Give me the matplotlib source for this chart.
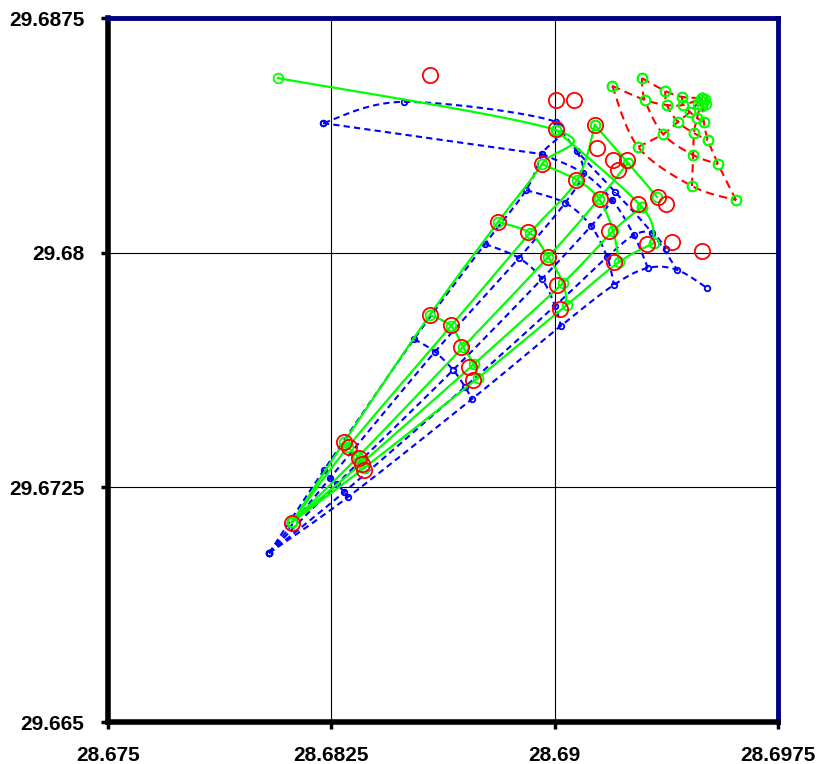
import numpy as np
import matplotlib.pyplot as plt

plt.rcParams['font.family'] = ['Liberation Sans', 'DejaVu Sans']

# ---- green tracks (solid), each list is (x, y) in lon/lat
g_ray1_x = [28.68118, 28.68293, 28.68581, 28.68810, 28.68957, 28.69004, 28.68071]
g_ray1_y = [29.67139, 29.67395, 29.67801, 29.68098, 29.68283, 29.68392, 29.68558]
g_ray2_x = [28.68118, 28.68306, 28.68652, 28.68917, 28.69075, 28.69135]
g_ray2_y = [29.67139, 29.67379, 29.67766, 29.68063, 29.68232, 29.68408]
g_ray3_x = [28.68118, 28.68339, 28.68692, 28.68978, 28.69149, 28.69246]
g_ray3_y = [29.67139, 29.67347, 29.67698, 29.67986, 29.68172, 29.68287]
g_ray4_x = [28.68118, 28.68353, 28.68729, 28.69028, 28.69196, 28.69293]
g_ray4_y = [29.67139, 29.67328, 29.67644, 29.67903, 29.68069, 29.68146]
g_ray5_x = [28.68118, 28.68360, 28.68742, 28.69041, 28.69216, 28.69334]
g_ray5_y = [29.67139, 29.67312, 29.67599, 29.67833, 29.67970, 29.68031]
g_ring5_x = [28.69004, 28.69293, 28.69334]
g_ring5_y = [29.68392, 29.68146, 29.68031]
g_tail_x = [28.69135, 28.69246, 28.69344]
g_tail_y = [29.68408, 29.68287, 29.68178]

# ---- blue model tracks (dashed)
b_ray1_x = [28.68041, 28.68225, 28.68528, 28.68766, 28.68904, 28.68957, 28.69004, 28.68494, 28.68222]
b_ray1_y = [29.67040, 29.67305, 29.67724, 29.68028, 29.68200, 29.68315, 29.68418, 29.68482, 29.68414]
b_ray2_x = [28.68041, 28.68246, 28.68598, 28.68880, 28.69035, 28.69095, 28.69075]
b_ray2_y = [29.67040, 29.67280, 29.67683, 29.67983, 29.68159, 29.68255, 29.68325]
b_ray3_x = [28.68041, 28.68269, 28.68659, 28.68957, 28.69122, 28.69193, 28.69203]
b_ray3_y = [29.67040, 29.67261, 29.67625, 29.67916, 29.68085, 29.68168, 29.68194]
b_ray4_x = [28.68041, 28.68293, 28.68699, 28.69001, 28.69176, 28.69266, 28.69327, 28.69374]
b_ray4_y = [29.67040, 29.67235, 29.67571, 29.67830, 29.67986, 29.68056, 29.68063, 29.68012]
b_ray5_x = [28.68041, 28.68306, 28.68722, 28.69021, 28.69199, 28.69313, 28.69411, 28.69512]
b_ray5_y = [29.67040, 29.67219, 29.67532, 29.67766, 29.67897, 29.67951, 29.67945, 29.67887]
b_loop_x = [28.68222, 28.68957]
b_loop_y = [29.68414, 29.68315]

# ---- red model grid (dashed, green markers)
r_arc1_x = [28.69193, 28.69280, 28.69461, 28.69609]
r_arc1_y = [29.68533, 29.68338, 29.68213, 29.68168]
r_arc2_x = [28.69293, 28.69303, 28.69364, 28.69465, 28.69549]
r_arc2_y = [29.68558, 29.68488, 29.68379, 29.68312, 29.68283]
r_arc3_x = [28.69371, 28.69377, 28.69414, 28.69468, 28.69515]
r_arc3_y = [29.68517, 29.68472, 29.68418, 29.68382, 29.68360]
r_arc4_x = [28.69428, 28.69431, 28.69454, 28.69478, 28.69501]
r_arc4_y = [29.68498, 29.68472, 29.68450, 29.68430, 29.68418]
r_rad0_x = [28.69293, 28.69371, 28.69428, 28.69495]
r_rad0_y = [29.68558, 29.68517, 29.68498, 29.68494]
r_rad1_x = [28.69193, 28.69303, 28.69377, 28.69431, 28.69495]
r_rad1_y = [29.68533, 29.68488, 29.68472, 29.68472, 29.68494]
r_rad2_x = [28.69280, 28.69364, 28.69414, 28.69454, 28.69495]
r_rad2_y = [29.68338, 29.68379, 29.68418, 29.68450, 29.68494]
r_rad3_x = [28.69461, 28.69465, 28.69468, 28.69478, 28.69495]
r_rad3_y = [29.68213, 29.68312, 29.68382, 29.68430, 29.68494]
r_rad4_x = [28.69609, 28.69549, 28.69515, 28.69501, 28.69495]
r_rad4_y = [29.68168, 29.68283, 29.68360, 29.68418, 29.68494]
r_end_x = [28.69488, 28.69498, 28.69505, 28.69481, 28.69495, 28.69508]
r_end_y = [29.68488, 29.68482, 29.68491, 29.68475, 29.68469, 29.68475]

# ---- observed positions (red open circles)
obs_x = [28.68581, 28.69004, 28.69065, 28.69004, 28.69135, 28.69142, 28.69196, 28.69243,
         28.69213, 28.68957, 28.69072, 28.69152, 28.69280, 28.69347, 28.69374, 28.69182,
         28.69310, 28.69394, 28.69495, 28.69199, 28.68810, 28.68910, 28.68978, 28.69008,
         28.69018, 28.68581, 28.68652, 28.68685, 28.68712, 28.68726, 28.68293, 28.68309,
         28.68343, 28.68353, 28.68360, 28.68118]
obs_y = [29.68568, 29.68488, 29.68488, 29.68395, 29.68408, 29.68335, 29.68296, 29.68296,
         29.68264, 29.68283, 29.68232, 29.68172, 29.68156, 29.68178, 29.68156, 29.68069,
         29.68028, 29.68034, 29.68005, 29.67970, 29.68098, 29.68066, 29.67986, 29.67897,
         29.67820, 29.67801, 29.67769, 29.67698, 29.67635, 29.67593, 29.67395, 29.67379,
         29.67344, 29.67325, 29.67305, 29.67136]

xticks = [28.675, 28.6825, 28.69, 28.6975]
yticks = [29.665, 29.6725, 29.68, 29.6875]


def smooth(xs, ys, n=16):
    # catmull-rom style curve like a spreadsheet "smoothed line"
    p = np.column_stack([xs, ys])
    if len(p) < 3:
        return p[:, 0], p[:, 1]
    p = np.vstack([p[0], p, p[-1]])
    out = []
    t = np.linspace(0, 1, n, endpoint=False)[:, None]
    for i in range(1, len(p) - 2):
        p0, p1, p2, p3 = p[i - 1], p[i], p[i + 1], p[i + 2]
        out.append(0.5 * ((2 * p1) + (-p0 + p2) * t + (2 * p0 - 5 * p1 + 4 * p2 - p3) * t ** 2
                          + (-p0 + 3 * p1 - 3 * p2 + p3) * t ** 3))
    out.append(p[-2][None, :])
    out = np.vstack(out)
    return out[:, 0], out[:, 1]


fig = plt.figure(figsize=(8.19, 7.64), dpi=100)
ax = fig.add_axes([108 / 819, 42 / 764, 670 / 819, 704 / 764])

blue = dict(color='#0000FF', lw=1.5, ls=(0, (3, 2)), zorder=2)
blue_m = dict(ls='none', marker='o', ms=4, mfc='none', mec='#0000FF', mew=1.3, zorder=3)
blue_rays = [(b_ray1_x, b_ray1_y), (b_ray2_x, b_ray2_y), (b_ray3_x, b_ray3_y),
             (b_ray4_x, b_ray4_y), (b_ray5_x, b_ray5_y)]
for xs, ys in blue_rays + [(b_loop_x, b_loop_y)]:
    ax.plot(*smooth(xs, ys), **blue)
    ax.plot(xs, ys, **blue_m)
# cross lines joining the same time step
for k in range(1, 7):
    xs = [r[0][k] for r in blue_rays if len(r[0]) > k]
    ys = [r[1][k] for r in blue_rays if len(r[1]) > k]
    ax.plot(*smooth(xs, ys), **blue)

green = dict(color='#00FF00', lw=1.6, zorder=4)
green_m = dict(ls='none', marker='o', ms=7, mfc='none', mec='#00FF00', mew=1.3, zorder=5)
green_rays = [(g_ray1_x, g_ray1_y), (g_ray2_x, g_ray2_y), (g_ray3_x, g_ray3_y),
              (g_ray4_x, g_ray4_y), (g_ray5_x, g_ray5_y)]
for xs, ys in green_rays + [(g_ring5_x, g_ring5_y), (g_tail_x, g_tail_y)]:
    ax.plot(*smooth(xs, ys), **green)
    ax.plot(xs, ys, **green_m)
for k in range(1, 5):
    ax.plot(*smooth([r[0][k] for r in green_rays], [r[1][k] for r in green_rays]), **green)

red = dict(color='#FF0000', lw=1.5, ls=(0, (4, 2.5)), zorder=4)
for xs, ys in [(r_arc1_x, r_arc1_y), (r_arc2_x, r_arc2_y), (r_arc3_x, r_arc3_y),
               (r_arc4_x, r_arc4_y), (r_rad0_x, r_rad0_y), (r_rad1_x, r_rad1_y),
               (r_rad2_x, r_rad2_y), (r_rad3_x, r_rad3_y), (r_rad4_x, r_rad4_y)]:
    ax.plot(*smooth(xs, ys), **red)
    ax.plot(xs, ys, **green_m)
ax.plot(r_end_x, r_end_y, **green_m)

ax.plot(obs_x, obs_y, ls='none', marker='o', ms=11, mfc='none', mec='#FF0000', mew=1.3, zorder=6)

ax.set_xlim(xticks[0], xticks[-1])
ax.set_ylim(yticks[0], yticks[-1])
ax.set_xticks(xticks)
ax.set_yticks(yticks)
ax.set_xticklabels(['28.675', '28.6825', '28.69', '28.6975'], fontsize=15, fontweight='bold')
ax.set_yticklabels(['29.665', '29.6725', '29.68', '29.6875'], fontsize=15, fontweight='bold')
ax.tick_params(direction='out', length=5, width=2.5, pad=12)
ax.grid(True, color='black', lw=0.8, zorder=1)
for side in ['left', 'bottom']:
    ax.spines[side].set_linewidth(4)
    ax.spines[side].set_color('black')
for side in ['top', 'right']:
    ax.spines[side].set_linewidth(3.5)
    ax.spines[side].set_color('#000080')

fig.savefig('out.png', dpi=100)
